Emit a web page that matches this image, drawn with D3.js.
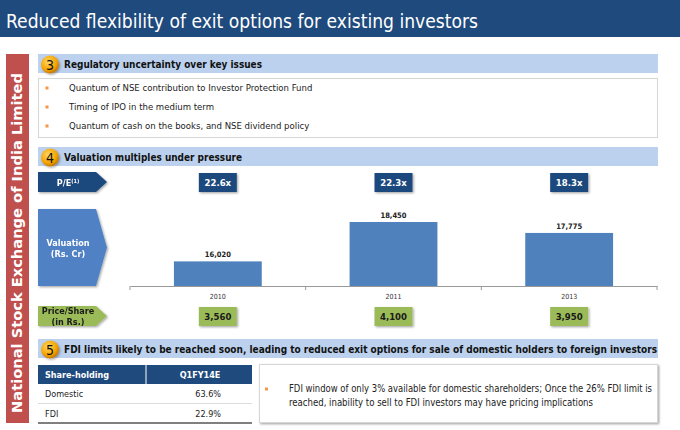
<!DOCTYPE html>
<html>
<head>
<meta charset="utf-8">
<script src="https://cdn.jsdelivr.net/npm/d3@7"></script>
<style>
  body { margin: 0; background: #fff; }
  svg { display: block; font-family: "DejaVu Sans Condensed", "DejaVu Sans", sans-serif; }
</style>
</head>
<body>
<svg id="chart" width="680" height="430"></svg>
<script>
// ── Slide text ──
const title = "Reduced flexibility of exit options for existing investors";
const sideLabel = "National Stock Exchange of India Limited";
const headings = [
  { num: "3", text: "Regulatory uncertainty over key issues" },
  { num: "4", text: "Valuation multiples under pressure" },
  { num: "5", text: "FDI limits likely to be reached soon, leading to reduced exit options for sale of domestic holders to foreign investors" }
];
const issues = [
  "Quantum of NSE contribution to Investor Protection Fund",
  "Timing of IPO in the medium term",
  "Quantum of cash on the books, and NSE dividend policy"
];

// ── Chart data ──
const years = ["2010", "2011", "2013"];
const peRatios = ["22.6x", "22.3x", "18.3x"];
const valuations = [16020, 18450, 17775];
const prices = [3560, 4100, 3950];

// ── Share-holding table ──
const tableHeader = ["Share-holding", "Q1FY14E"];
const holders = ["Domestic", "FDI"];
const holdings = ["63.6%", "22.9%"];
const fdiNote = [
  "FDI window of only 3% available for domestic shareholders; Once the 26% FDI limit is",
  "reached, inability to sell to FDI investors may have pricing implications"
];

const svg = d3.select("#chart");
const fmt = d3.format(",");

// ── Defs: shadow + circle gradient ──
const defs = svg.append("defs");
const sh = defs.append("filter").attr("id", "shadow")
  .attr("x", "-20%").attr("y", "-20%").attr("width", "150%").attr("height", "160%");
sh.append("feDropShadow").attr("dx", 1.2).attr("dy", 1.2)
  .attr("stdDeviation", 0.9).attr("flood-color", "#000").attr("flood-opacity", 0.35);
const grad = defs.append("radialGradient").attr("id", "ball")
  .attr("cx", "40%").attr("cy", "35%").attr("r", "65%");
grad.append("stop").attr("offset", "0%").attr("stop-color", "#ffd766");
grad.append("stop").attr("offset", "70%").attr("stop-color", "#f5a400");
grad.append("stop").attr("offset", "100%").attr("stop-color", "#c77800");

// ── Title bar ──
svg.append("rect").attr("width", 680).attr("height", 37).attr("fill", "#1f4a7d");
svg.append("text").attr("x", 6).attr("y", 28)
  .attr("fill", "#fff").attr("font-size", 19.5)
  .attr("textLength", 472).attr("lengthAdjust", "spacingAndGlyphs")
  .text(title);

// ── Side bar ──
svg.append("rect").attr("x", 6).attr("y", 54).attr("width", 23).attr("height", 369)
  .attr("fill", "#c0504d");
svg.append("text")
  .attr("transform", "translate(22,243) rotate(-90)")
  .attr("text-anchor", "middle").attr("fill", "#fff")
  .attr("font-size", 14).attr("font-weight", "bold")
  .attr("font-family", "'DejaVu Sans', sans-serif")
  .attr("textLength", 340).attr("lengthAdjust", "spacingAndGlyphs")
  .text(sideLabel);

// ── Section headings ──
const headY = [54, 147, 339];
const headW = [198, 178, 593];
headings.forEach((h, i) => {
  const g = svg.append("g").attr("transform", `translate(38,${headY[i]})`);
  g.append("rect").attr("width", 620).attr("height", 19).attr("fill", "#bcd1ee");
  g.append("circle").attr("cx", 12).attr("cy", 10.5).attr("r", 9)
    .attr("fill", "url(#ball)").attr("filter", "url(#shadow)");
  g.append("text").attr("x", 12).attr("y", 15.5).attr("text-anchor", "middle")
    .attr("font-size", 14).attr("fill", "#111").text(h.num);
  g.append("text").attr("x", 26).attr("y", 13.5)
    .attr("font-size", i === 2 ? 9.8 : 10.2).attr("font-weight", "bold").attr("fill", "#111")
    .attr("textLength", headW[i]).attr("lengthAdjust", "spacingAndGlyphs")
    .text(h.text);
});

// ── Section 3 bullets ──
svg.append("rect").attr("x", 38.5).attr("y", 78.5).attr("width", 619).attr("height", 59)
  .attr("fill", "#fff").attr("stroke", "#d6d6d6");
const bulletY = d3.scalePoint().domain(d3.range(issues.length)).range([88, 126]);
issues.forEach((s, i) => {
  svg.append("rect").attr("x", 45.5).attr("y", bulletY(i) - 1.5)
    .attr("width", 3).attr("height", 3).attr("fill", "#f79646");
  svg.append("text").attr("x", 69).attr("y", bulletY(i) + 3.3)
    .attr("font-size", 9.5).attr("fill", "#222").text(s);
});

// ── Row labels (arrow shapes) ──
function arrowLabel(y, h, fill, color, lines) {
  const g = svg.append("g").attr("transform", `translate(38,${y})`)
    .attr("filter", "url(#shadow)");
  const body = 58, tip = 69;
  g.append("path")
    .attr("d", `M0,0H${body}L${tip},${h / 2}L${body},${h}H0Z`)
    .attr("fill", fill);
  const lh = 11;
  lines.forEach((ln, k) => {
    g.append("text").attr("x", 30).attr("text-anchor", "middle")
      .attr("y", h / 2 + (k - (lines.length - 1) / 2) * lh + 3.5)
      .attr("font-size", 9).attr("font-weight", "bold").attr("fill", color)
      .html(ln);
  });
}
arrowLabel(172, 20, "#1f4a7d", "#fff", ["P/E<tspan dy='-3' font-size='5.5'>(1)</tspan>"]);
arrowLabel(209, 77, "#4f81c4", "#fff", ["Valuation", "(Rs. Cr)"]);
arrowLabel(306, 20, "#9bbb59", "#1a1a1a", ["Price/Share", "(in Rs.)"]);

// ── Scales ──
const x = d3.scaleBand().domain(years).range([130, 657])
  .paddingInner(0.5).paddingOuter(0.25);
const y = d3.scaleLinear().domain([14500, 19000]).range([286, 213.1]);
const cx = d => x(d) + x.bandwidth() / 2;

// ── Bars ──
const chart = svg.append("g");
chart.selectAll(".bar").data(years).join("rect")
  .attr("class", "bar")
  .attr("x", d => x(d)).attr("width", x.bandwidth())
  .attr("y", (d, i) => y(valuations[i]))
  .attr("height", (d, i) => y.range()[0] - y(valuations[i]))
  .attr("fill", "#4f81bd");
chart.selectAll(".val").data(years).join("text")
  .attr("x", cx).attr("y", (d, i) => y(valuations[i]) - 4)
  .attr("text-anchor", "middle").attr("font-size", 7.5).attr("font-weight", "bold")
  .attr("fill", "#222").text((d, i) => fmt(valuations[i]));

// ── Category axis ──
const axis = chart.append("g").attr("transform", `translate(0,${y.range()[0]})`)
  .call(d3.axisBottom(x).tickSize(0).tickPadding(8));
axis.select(".domain").attr("stroke", "#999");
axis.selectAll(".tick text").attr("font-size", 7).attr("fill", "#333")
  .attr("font-family", "'DejaVu Sans Condensed', sans-serif");
const bounds = years.map(d => x(d) - x.step() * x.paddingInner() / 2)
  .concat([x.range()[1]]);
bounds[0] = x.range()[0];
axis.selectAll(".bound").data(bounds).join("line")
  .attr("x1", d => d).attr("x2", d => d).attr("y1", 0).attr("y2", 4)
  .attr("stroke", "#999");

// ── P/E and Price boxes ──
function valueBoxes(cls, y0, fill, color, labels) {
  const g = svg.selectAll("." + cls).data(years).join("g")
    .attr("class", cls)
    .attr("transform", d => `translate(${cx(d) - 19},${y0})`);
  g.append("rect").attr("width", 38).attr("height", 19)
    .attr("fill", fill).attr("filter", "url(#shadow)");
  g.append("text").attr("x", 19).attr("y", 13).attr("text-anchor", "middle")
    .attr("font-size", 9.5).attr("font-weight", "bold").attr("fill", color)
    .text((d, i) => labels[i]);
}
valueBoxes("pe", 173, "#1f4a7d", "#fff", peRatios);
valueBoxes("price", 307, "#9bbb59", "#1a1a1a", prices.map(fmt));

// ── Share-holding table ──
const tbl = svg.append("g").attr("transform", "translate(38,365)");
tbl.append("rect").attr("width", 214).attr("height", 19).attr("fill", "#1f4a7d");
tbl.append("line").attr("x1", 108).attr("x2", 108).attr("y1", 0).attr("y2", 19)
  .attr("stroke", "#fff").attr("stroke-width", 1);
tbl.append("text").attr("x", 7).attr("y", 13).attr("font-size", 9)
  .attr("font-weight", "bold").attr("fill", "#fff").text(tableHeader[0]);
tbl.append("text").attr("x", 162).attr("y", 13).attr("text-anchor", "middle")
  .attr("font-size", 9).attr("font-weight", "bold").attr("fill", "#fff").text(tableHeader[1]);
const rowY = d3.scaleBand().domain(holders).range([19, 58]);
holders.forEach((h, i) => {
  const yy = rowY(h);
  tbl.append("text").attr("x", 7).attr("y", yy + rowY.bandwidth() / 2 + 3.5)
    .attr("font-size", 9).attr("fill", "#222").text(h);
  tbl.append("text").attr("x", 183).attr("y", yy + rowY.bandwidth() / 2 + 3.5)
    .attr("text-anchor", "end").attr("font-size", 9).attr("fill", "#222").text(holdings[i]);
  tbl.append("line").attr("x1", 0).attr("x2", 214)
    .attr("y1", yy + rowY.bandwidth()).attr("y2", yy + rowY.bandwidth())
    .attr("stroke", i === holders.length - 1 ? "#555" : "#ddd")
    .attr("stroke-width", i === holders.length - 1 ? 1.5 : 1);
});

// ── FDI note box ──
svg.append("rect").attr("x", 259.5).attr("y", 364.5).attr("width", 398).attr("height", 58)
  .attr("fill", "#fff").attr("stroke", "#d6d6d6").attr("filter", "url(#shadow)");
svg.append("rect").attr("x", 265).attr("y", 387.5).attr("width", 3).attr("height", 3)
  .attr("fill", "#f79646");
const noteW = [363, 304];
fdiNote.forEach((ln, i) => {
  svg.append("text").attr("x", 289).attr("y", 391.5 + i * 14)
    .attr("font-size", 10).attr("fill", "#222")
    .attr("textLength", noteW[i]).attr("lengthAdjust", "spacingAndGlyphs")
    .text(ln);
});
</script>
</body>
</html>
